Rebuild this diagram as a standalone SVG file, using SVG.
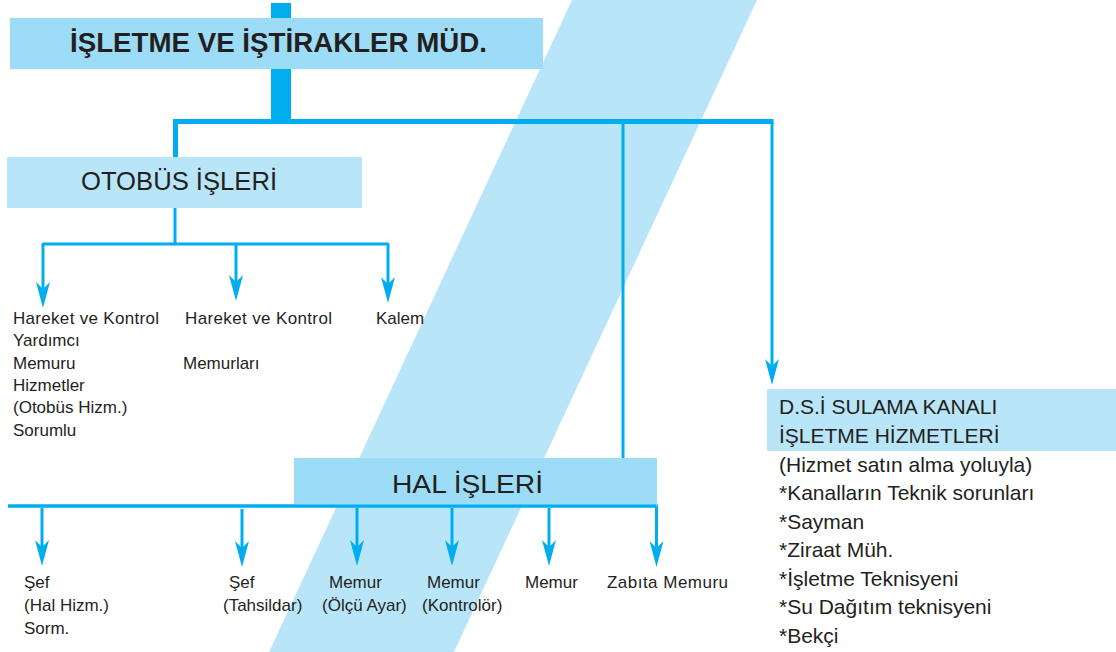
<svg xmlns="http://www.w3.org/2000/svg" width="1116" height="652" viewBox="0 0 1116 652">
<style>
.bg{fill:#fff}
.stripe{fill:#b9e5f9}
.boxd{fill:#9ddcf7}
.boxl{fill:#b9e5f8}
.ln{fill:none;stroke:#00aeef;stroke-width:3}
.lnm{fill:none;stroke:#00aeef;stroke-width:5}
.t{font-family:"Liberation Sans",Arial,sans-serif;fill:#231f20}
.s{font-size:17px}
.m{font-size:21px}
.h{font-size:25px}
.b{font-size:27px;font-weight:bold}
</style>
<defs>
<marker id="ah" markerUnits="userSpaceOnUse" markerWidth="26" markerHeight="14" viewBox="0 0 26 14" refX="18" refY="7" orient="auto">
<path d="M0,0 L26,7 L0,14 L7,7 Z" fill="#00aeef"/>
</marker>
</defs>
<rect class="bg" x="0" y="0" width="1116" height="652"/>
<polygon class="stripe" points="572,0 757,0 454,652 269,652"/>

<g id="connectors">
<rect x="271" y="3" width="20" height="118" fill="#00aeef"/>
<path class="lnm" d="M175.5,158 V121.5 H773.5"/>
<path class="ln" d="M772,121 V377" marker-end="url(#ah)"/>
<path class="ln" d="M623,121 V458"/>
<path class="ln" d="M175,207 V244 M43,244 H388"/>
<path class="ln" d="M43,243 V300" marker-end="url(#ah)"/>
<path class="ln" d="M236,243 V293" marker-end="url(#ah)"/>
<path class="ln" d="M388,243 V295" marker-end="url(#ah)"/>
<path class="ln" d="M8,506 H656.5 V559" marker-end="url(#ah)"/>
<path class="ln" d="M42,508 V558" marker-end="url(#ah)"/>
<path class="ln" d="M242,509 V559" marker-end="url(#ah)"/>
<path class="ln" d="M357,508 V558" marker-end="url(#ah)"/>
<path class="ln" d="M452,508 V558" marker-end="url(#ah)"/>
<path class="ln" d="M549,508 V558" marker-end="url(#ah)"/>
</g>

<g id="node-mudurluk">
<rect class="boxd" x="10" y="18" width="533" height="51"/>
<text class="t b" x="70" y="52" textLength="417" lengthAdjust="spacingAndGlyphs">İŞLETME VE İŞTİRAKLER MÜD.</text>
</g>

<g id="node-otobus">
<rect class="boxl" x="7" y="157" width="355" height="51"/>
<text class="t h" x="81" y="190" textLength="196" lengthAdjust="spacingAndGlyphs">OTOBÜS İŞLERİ</text>
</g>

<g id="node-otobus-1">
<text class="t s" x="13" y="324" textLength="146">Hareket ve Kontrol</text>
<text class="t s" x="13" y="346">Yardımcı</text>
<text class="t s" x="13" y="369">Memuru</text>
<text class="t s" x="13" y="391">Hizmetler</text>
<text class="t s" x="13" y="413">(Otobüs Hizm.)</text>
<text class="t s" x="13" y="436">Sorumlu</text>
</g>
<g id="node-otobus-2">
<text class="t s" x="185" y="324" textLength="147">Hareket ve Kontrol</text>
<text class="t s" x="183" y="369">Memurları</text>
</g>
<g id="node-otobus-3">
<text class="t s" x="376" y="324">Kalem</text>
</g>

<g id="node-hal">
<rect class="boxd" x="294" y="458" width="363" height="49"/>
<text class="t h" x="392" y="493" textLength="151" lengthAdjust="spacingAndGlyphs">HAL İŞLERİ</text>
</g>
<path class="ln" d="M8,506 H656.5"/>

<g id="node-hal-1">
<text class="t s" x="24" y="588">Şef</text>
<text class="t s" x="24" y="611">(Hal Hizm.)</text>
<text class="t s" x="24" y="634">Sorm.</text>
</g>
<g id="node-hal-2">
<text class="t s" x="229" y="588">Şef</text>
<text class="t s" x="223" y="611">(Tahsildar)</text>
</g>
<g id="node-hal-3">
<text class="t s" x="329" y="588">Memur</text>
<text class="t s" x="322" y="611">(Ölçü Ayar)</text>
</g>
<g id="node-hal-4">
<text class="t s" x="427" y="588">Memur</text>
<text class="t s" x="422" y="611">(Kontrolör)</text>
</g>
<g id="node-hal-5">
<text class="t s" x="525" y="588">Memur</text>
</g>
<g id="node-hal-6">
<text class="t s" x="607" y="588" textLength="121">Zabıta Memuru</text>
</g>

<g id="node-dsi">
<rect class="boxl" x="767" y="389" width="349" height="62"/>
<text class="t m" x="779" y="414">D.S.İ SULAMA KANALI</text>
<text class="t m" x="779" y="443">İŞLETME HİZMETLERİ</text>
<text class="t m" x="779" y="472">(Hizmet satın alma yoluyla)</text>
<text class="t m" x="779" y="500">*Kanalların Teknik sorunları</text>
<text class="t m" x="779" y="529">*Sayman</text>
<text class="t m" x="779" y="557">*Ziraat Müh.</text>
<text class="t m" x="779" y="586">*İşletme Teknisyeni</text>
<text class="t m" x="779" y="614">*Su Dağıtım teknisyeni</text>
<text class="t m" x="779" y="643">*Bekçi</text>
</g>
</svg>
